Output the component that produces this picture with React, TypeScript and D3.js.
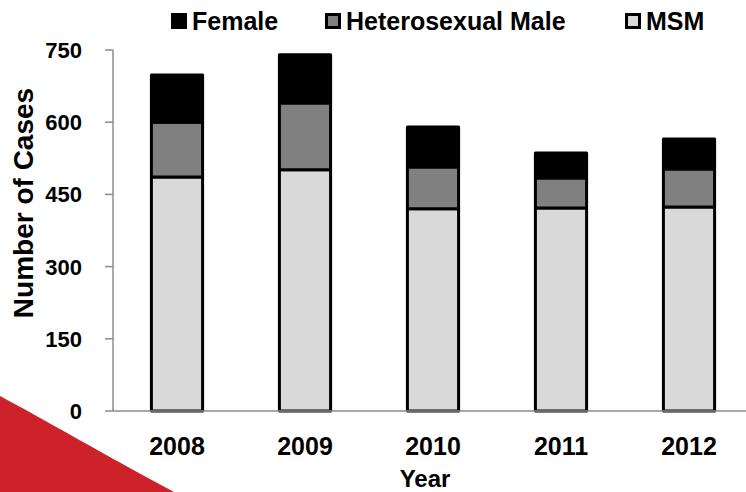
import React from "react";
import * as d3 from "d3";

const years = ["2008", "2009", "2010", "2011", "2012"];
const msm = [486, 501, 420, 422, 424];
const heteroMale = [114, 139, 87, 62, 79];
const female = [98, 100, 83, 52, 62];
const yTicks = [0, 150, 300, 450, 600, 750];

const seriesKeys = ["msm", "heteroMale", "female"] as const;
const seriesColors: Record<string, string> = {
  msm: "#d9d9d9",
  heteroMale: "#808080",
  female: "#000000",
};

const legendItems = [
  { key: "female", label: "Female", x: 171 },
  { key: "heteroMale", label: "Heterosexual Male", x: 325 },
  { key: "msm", label: "MSM", x: 625 },
];

const font = "'Liberation Sans', Arial, Helvetica, sans-serif";

const App: React.FC = () => {
  const width = 746;
  const height = 492;

  // plot area
  const left = 113;
  const top = 50;
  const bottom = 411;

  const x = d3
    .scaleBand<string>()
    .domain(years)
    .range([left, 753])
    .paddingInner(0.6)
    .paddingOuter(0.3);

  const y = d3.scaleLinear().domain([0, 750]).range([bottom, top]);

  const rows = years.map((yr, i) => ({
    year: yr,
    msm: msm[i],
    heteroMale: heteroMale[i],
    female: female[i],
  }));

  const stacked = d3.stack<any>().keys(seriesKeys as unknown as string[])(rows);

  // red decorative swoosh in the bottom-left corner
  const swoosh = d3.path();
  swoosh.moveTo(0, 396);
  swoosh.bezierCurveTo(45, 420, 105, 455, 174, 492);
  swoosh.lineTo(0, 492);
  swoosh.closePath();

  return (
    <svg
      width={width}
      height={height}
      style={{ position: "absolute", left: 0, top: 0, background: "#fff" }}
      fontFamily={font}
      fontWeight="bold"
    >
      <path d={swoosh.toString()} fill="#cd2229" />

      {/* y axis */}
      <line x1={left} x2={left} y1={top} y2={bottom} stroke="#8c8c8c" strokeWidth={1.5} />
      {yTicks.map((t) => (
        <g key={t}>
          <line x1={left - 8} x2={left} y1={y(t)} y2={y(t)} stroke="#8c8c8c" strokeWidth={1.5} />
          <text x={82} y={y(t)} dy="0.36em" textAnchor="end" fontSize={22} fill="#000">
            {t}
          </text>
        </g>
      ))}

      {/* bars */}
      {stacked.map((s) => (
        <g key={s.key}>
          {s.map((d, i) => (
            <rect
              key={i}
              x={x(years[i])}
              y={y(d[1])}
              width={x.bandwidth()}
              height={y(d[0]) - y(d[1])}
              fill={seriesColors[s.key]}
              stroke="#000"
              strokeWidth={3}
              strokeLinejoin="round"
            />
          ))}
        </g>
      ))}

      {/* x axis */}
      <line x1={left} x2={width} y1={bottom} y2={bottom} stroke="#8c8c8c" strokeWidth={1.5} />
      {years.map((yr) => (
        <text
          key={yr}
          x={(x(yr) ?? 0) + x.bandwidth() / 2}
          y={455}
          textAnchor="middle"
          fontSize={25}
          fill="#000"
        >
          {yr}
        </text>
      ))}

      <text x={425} y={487} textAnchor="middle" fontSize={24} fill="#000">
        Year
      </text>

      <text
        transform={`translate(33, 203) rotate(-90)`}
        textAnchor="middle"
        fontSize={28}
        fill="#000"
      >
        Number of Cases
      </text>

      {/* legend */}
      {legendItems.map((it) => (
        <g key={it.key}>
          <rect
            x={it.x + 1.5}
            y={14.5}
            width={13}
            height={13}
            fill={seriesColors[it.key]}
            stroke="#000"
            strokeWidth={3}
          />
          <text x={it.x + 21} y={30} fontSize={25} fill="#000">
            {it.label}
          </text>
        </g>
      ))}
    </svg>
  );
};

export default App;
